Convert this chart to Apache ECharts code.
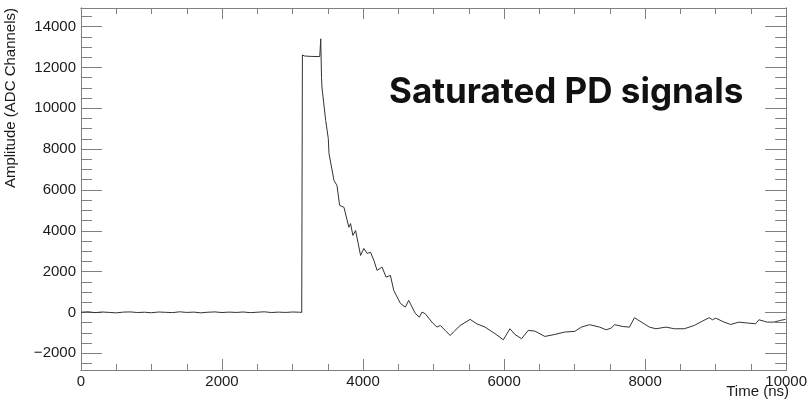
<!DOCTYPE html>
<html>
<head>
<meta charset="utf-8">
<script src="https://cdn.jsdelivr.net/npm/echarts@6/dist/echarts.min.js"></script>
<style>html,body{margin:0;padding:0;background:#fff}#c{width:810px;height:404px}</style>
</head>
<body>
<div id="c"></div>
<script>
// ---- data ----
const timeNs = [
  0,100,200,300,400,500,600,700,800,900,1000,1100,1200,1300,1400,1500,1600,1700,1800,1900,
  2000,2100,2200,2300,2400,2500,2600,2700,2800,2900,3000,3100,3130,
  3140,3170,3250,3386,3400,3411,3418,3470,3507,3517,3588,3630,3668,3729,3799,3823,3856,3894,
  3965,4011,4058,4106,4153,4199,4270,4326,4388,4435,4530,4600,4647,4741,4798,4835,4883,4976,
  5047,5095,5165,5236,5282,5377,5518,5612,5730,5871,5989,6083,6154,6247,6342,6436,6578,6719,
  6860,7001,7095,7213,7354,7448,7518,7566,7683,7778,7849,7895,8061,8154,8295,8414,8555,8696,
  8813,8908,8955,9001,9120,9213,9332,9450,9566,9614,9731,9826,9919,9990
];
const amplitude = [
  10,30,-10,20,0,-20,15,25,-5,10,-15,20,5,-10,30,0,15,-20,10,25,
  -5,15,0,20,-10,10,30,-5,15,0,20,10,0,
  12610,12560,12540,12530,13400,11500,11000,9400,8520,7780,6460,6220,5240,5150,4170,4350,3770,4010,
  2790,3130,2890,2950,2550,2060,2220,1730,1810,1080,440,260,590,-50,-230,15,-65,-475,
  -720,-640,-880,-1130,-960,-640,-340,-555,-720,-1040,-1340,-800,-1080,-1290,-880,-915,-1175,-1080,
  -960,-930,-720,-600,-720,-850,-770,-600,-690,-720,-260,-360,-720,-800,-720,-800,-800,-640,
  -425,-260,-360,-280,-475,-590,-475,-520,-555,-360,-475,-475,-390,-340
];
const xMajorTicks = [0,2000,4000,6000,8000,10000];
const xMinorTicks = [500,1000,1500,2500,3000,3500,4500,5000,5500,6500,7000,7500,8500,9000,9500];
const yMajorTicks = [-2000,0,2000,4000,6000,8000,10000,12000,14000];
const yMinorTicks = [-2500,-1500,-1000,-500,500,1000,1500,2500,3000,3500,4500,5000,5500,6500,7000,7500,
  8500,9000,9500,10500,11000,11500,12500,13000,13500,14500];
const xRange = [0, 10000];
const yRange = [-2820, 14910];
const titleText = 'Saturated PD signals';
const xTitle = 'Time (ns)';
const yTitle = 'Amplitude (ADC Channels)';

// ---- chart ----
const seriesData = timeNs.map((t, i) => [t, amplitude[i]]);
const axisColor = '#808080';
const labelFont = {color: '#1a1a1a', fontSize: 15, fontFamily: 'Liberation Sans'};

function xAx(pos, ticks, len, labels) {
  return {
    type: 'value', position: pos, min: xRange[0], max: xRange[1],
    axisLine: {show: true, onZero: false, lineStyle: {color: axisColor, width: 1}},
    axisTick: {show: true, inside: true, length: len, customValues: ticks, lineStyle: {color: axisColor}},
    axisLabel: labels ? Object.assign({show: true, margin: 4, customValues: xMajorTicks,
      formatter: v => String(v)}, labelFont) : {show: false},
    splitLine: {show: false}
  };
}
function yAx(pos, ticks, len, labels) {
  return {
    type: 'value', position: pos, min: yRange[0], max: yRange[1],
    axisLine: {show: true, onZero: false, lineStyle: {color: axisColor, width: 1}},
    axisTick: {show: true, inside: true, length: len, customValues: ticks, lineStyle: {color: axisColor}},
    axisLabel: labels ? Object.assign({show: true, margin: 5, customValues: yMajorTicks,
      formatter: v => (v < 0 ? '\u2212' + Math.abs(v) : String(v))}, labelFont) : {show: false},
    splitLine: {show: false}
  };
}

const chart = echarts.init(document.getElementById('c'), null, {renderer: 'canvas'});
chart.setOption({
  animation: false,
  backgroundColor: '#fff',
  grid: {left: 81, right: 21, top: 8, bottom: 34, containLabel: false},
  xAxis: [
    xAx('bottom', xMajorTicks, 11, true),
    xAx('bottom', xMinorTicks, 6, false),
    xAx('top', xMajorTicks, 11, false),
    xAx('top', xMinorTicks, 6, false)
  ],
  yAxis: [
    yAx('left', yMajorTicks, 21, true),
    yAx('left', yMinorTicks, 11, false),
    yAx('right', yMajorTicks, 21, false),
    yAx('right', yMinorTicks, 11, false)
  ],
  series: [{
    type: 'line', xAxisIndex: 0, yAxisIndex: 0, data: seriesData,
    showSymbol: false, symbol: 'none', smooth: false,
    lineStyle: {color: '#333', width: 1}
  }],
  graphic: [
    {type: 'text', x: 389, y: 92, style: {text: titleText, font: 'bold 35px Inter', fill: '#111',
      textAlign: 'left', textVerticalAlign: 'middle'}},
    {type: 'text', x: 789, y: 392, style: {text: xTitle, font: '15px "Liberation Sans"', fill: '#1a1a1a',
      textAlign: 'right', textVerticalAlign: 'middle'}},
    {type: 'text', x: 11, y: 8, rotation: Math.PI / 2, style: {text: yTitle, font: '15px "Liberation Sans"', fill: '#1a1a1a',
      textAlign: 'right', textVerticalAlign: 'middle'}}
  ]
});
</script>
</body>
</html>
